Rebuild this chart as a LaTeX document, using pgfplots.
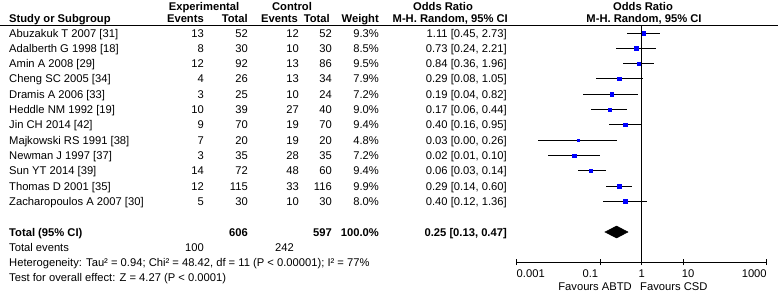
\documentclass[border=0pt]{standalone}
\usepackage{pgfplots}
\pgfplotsset{compat=1.18}
\usepackage{pgfplotstable}
\usepackage{fontspec}
\setmainfont{Liberation Sans}
\pgfplotstableread{
y     or    lo     hi    w
33.0  1.11  0.45   2.73  9.3
48.3  0.73  0.24   2.21  8.5
63.6  0.84  0.36   1.96  9.5
78.9  0.29  0.08   1.05  7.9
94.2  0.19  0.04   0.82  7.2
109.5 0.17  0.06   0.44  9.0
124.8 0.40  0.16   0.95  9.4
140.1 0.03  0.0032 0.26  4.8
155.4 0.024 0.0057 0.10  7.2
170.7 0.06  0.03   0.14  9.4
186.0 0.29  0.14   0.60  9.9
201.3 0.40  0.12   1.36  8.0
}\forestdata
\newcommand\row[8]{%
  \node[anchor=base west,inner sep=0pt] at (9pt,{-(#1+4)*1pt}) {#2};
  \node[anchor=base east,inner sep=0pt] at (204pt,{-(#1+4)*1pt}) {#3};
  \node[anchor=base east,inner sep=0pt] at (248pt,{-(#1+4)*1pt}) {#4};
  \node[anchor=base east,inner sep=0pt] at (299pt,{-(#1+4)*1pt}) {#5};
  \node[anchor=base east,inner sep=0pt] at (332pt,{-(#1+4)*1pt}) {#6};
  \node[anchor=base east,inner sep=0pt] at (379pt,{-(#1+4)*1pt}) {#7};
  \node[anchor=base east,inner sep=0pt] at (507pt,{-(#1+4)*1pt}) {#8};
}
\begin{document}
\fontsize{11.2pt}{13pt}\selectfont
\begin{tikzpicture}
\path[use as bounding box] (0,0) rectangle (778pt,-292pt);
% header
\begin{scope}[every node/.style={inner sep=0pt}, font=\bfseries]
\node[anchor=base] at (204pt,-10pt) {Experimental};
\node[anchor=base] at (292pt,-10pt) {Control};
\node[anchor=base] at (443pt,-10pt) {Odds Ratio};
\node[anchor=base] at (643pt,-10pt) {Odds Ratio};
\node[anchor=base west] at (9pt,-22pt) {Study or Subgroup};
\node[anchor=base east] at (204pt,-22pt) {Events};
\node[anchor=base east] at (248pt,-22pt) {Total};
\node[anchor=base east] at (298pt,-22pt) {Events};
\node[anchor=base east] at (330pt,-22pt) {Total};
\node[anchor=base east] at (379pt,-22pt) {Weight};
\node[anchor=base east] at (508pt,-22pt) {M-H. Random, 95\% CI};
\node[anchor=base] at (644pt,-22pt) {M-H. Random, 95\% CI};
\end{scope}
\draw[line width=0.9pt] (0pt,-25.7pt) -- (778pt,-25.7pt);
% rows
\row{33.0}{Abuzakuk T 2007 [31]}{13}{52}{12}{52}{9.3\%}{1.11 [0.45, 2.73]}
\row{48.3}{Adalberth G 1998 [18]}{8}{30}{10}{30}{8.5\%}{0.73 [0.24, 2.21]}
\row{63.6}{Amin A 2008 [29]}{12}{92}{13}{86}{9.5\%}{0.84 [0.36, 1.96]}
\row{78.9}{Cheng SC 2005 [34]}{4}{26}{13}{34}{7.9\%}{0.29 [0.08, 1.05]}
\row{94.2}{Dramis A 2006 [33]}{3}{25}{10}{24}{7.2\%}{0.19 [0.04, 0.82]}
\row{109.5}{Heddle NM 1992 [19]}{10}{39}{27}{40}{9.0\%}{0.17 [0.06, 0.44]}
\row{124.8}{Jin CH 2014 [42]}{9}{70}{19}{70}{9.4\%}{0.40 [0.16, 0.95]}
\row{140.1}{Majkowski RS 1991 [38]}{7}{20}{19}{20}{4.8\%}{0.03 [0.00, 0.26]}
\row{155.4}{Newman J 1997 [37]}{3}{35}{28}{35}{7.2\%}{0.02 [0.01, 0.10]}
\row{170.7}{Sun YT 2014 [39]}{14}{72}{48}{60}{9.4\%}{0.06 [0.03, 0.14]}
\row{186.0}{Thomas D 2001 [35]}{12}{115}{33}{116}{9.9\%}{0.29 [0.14, 0.60]}
\row{201.3}{Zacharopoulos A 2007 [30]}{5}{30}{10}{30}{8.0\%}{0.40 [0.12, 1.36]}
% totals
\begin{scope}[every node/.style={inner sep=0pt}]
\node[anchor=base west,font=\bfseries] at (9pt,-236pt) {Total (95\% CI)};
\node[anchor=base east,font=\bfseries] at (248pt,-236pt) {606};
\node[anchor=base east,font=\bfseries] at (332pt,-236pt) {597};
\node[anchor=base east,font=\bfseries] at (379pt,-236pt) {100.0\%};
\node[anchor=base east,font=\bfseries] at (507pt,-236pt) {0.25 [0.13, 0.47]};
\node[anchor=base west] at (9pt,-251pt) {Total events};
\node[anchor=base east] at (204pt,-251pt) {100};
\node[anchor=base east] at (294pt,-251pt) {242};
\node[anchor=base west] at (9pt,-266pt) {Heterogeneity: Tau² = 0.94; Chi² = 48.42, df = 11 (P < 0.00001); I² = 77\%};
\node[anchor=base west] at (9pt,-281pt) {Test for overall effect: Z = 4.27 (P < 0.0001)};
\node[anchor=base east] at (632pt,-290pt) {Favours ABTD};
\node[anchor=base west] at (640pt,-290pt) {Favours CSD};
\end{scope}
\begin{axis}[
  at={(516.7pt,-262pt)}, anchor=south west,
  scale only axis, width=250pt, height=236.3pt,
  xmode=log, xmin=0.001, xmax=1000,
  ymin=25.7, ymax=262, y dir=reverse,
  axis x line*=bottom, axis y line=none,
  xtick={0.001,0.1,1,10,1000},
  xticklabels={\rlap{0.001},\llap{0.1\,},1,\rlap{\kern-1.5pt 10},\llap{1000}},
  xminorticks=false,
  tick align=center, major tick length=6pt,
  tick style={black, line width=0.9pt},
  axis line style={black, line width=0.9pt},
  xticklabel style={anchor=base, inner sep=0pt, yshift=-12pt},
  clip=false,
]
\addplot[black, line width=0.9pt] coordinates {(1,25.7) (1,262)};
\addplot[draw=none, mark=none,
  error bars/.cd, x dir=both, x explicit,
  error mark=none, error bar style={black, line width=0.9pt}]
  table[x=or, y=y, x error minus expr=\thisrow{or}-\thisrow{lo}, x error plus expr=\thisrow{hi}-\thisrow{or}] {\forestdata};
\addplot[only marks, mark=square*, scatter, point meta=\thisrow{w},
  visualization depends on={\thisrow{w}\as\wt},
  scatter/use mapped color={draw=blue,fill=blue},
  scatter/@pre marker code/.append style={/tikz/mark size=0.6*sqrt(\wt)}]
  table[x=or, y=y] {\forestdata};
\addplot[fill=black, draw=black] coordinates {(0.13,232) (0.25,226) (0.47,232) (0.25,238)} -- cycle;
\end{axis}
\end{tikzpicture}
\end{document}
